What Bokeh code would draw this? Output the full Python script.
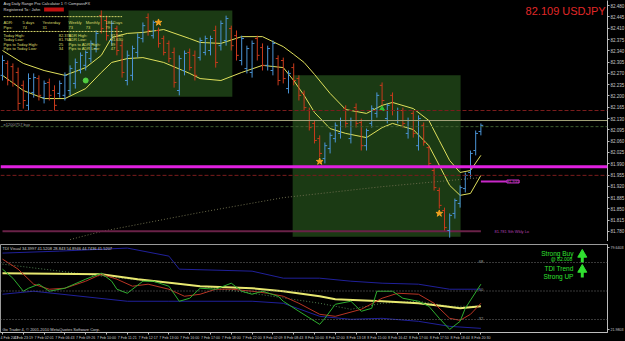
from bokeh.plotting import figure
from bokeh.layouts import column
from bokeh.models import Range1d, FixedTicker, PrintfTickFormatter, ColumnDataSource, Label, Span
from bokeh.core.properties import value
from bokeh.embed import file_html
from bokeh.resources import INLINE

# ---------------- data ----------------
bar_index = list(range(93))
high = [82.326, 82.310, 82.301, 82.288, 82.248, 82.270, 82.270, 82.264, 82.248, 82.254,
        82.233, 82.248, 82.273, 82.295, 82.316, 82.335, 82.341, 82.372, 82.403, 82.465,
        82.449, 82.434, 82.418, 82.372, 82.341, 82.356, 82.394, 82.428, 82.456, 82.434,
        82.412, 82.387, 82.372, 82.350, 82.326, 82.341, 82.347, 82.341, 82.381, 82.387,
        82.387, 82.418, 82.434, 82.449, 82.418, 82.403, 82.387, 82.356, 82.372, 82.387,
        82.363, 82.356, 82.372, 82.326, 82.319, 82.279, 82.301, 82.264, 82.217, 82.164,
        82.124, 82.078, 82.056, 82.087, 82.118, 82.133, 82.171, 82.133, 82.177, 82.130,
        82.099, 82.171, 82.211, 82.242, 82.177, 82.211, 82.164, 82.164, 82.133, 82.155,
        82.140, 82.118, 82.046, 81.978, 81.916, 81.854, 81.836, 81.882, 81.923, 81.963,
        82.031, 82.093, 82.115]
low = [82.248, 82.233, 82.229, 82.155, 82.161, 82.155, 82.195, 82.186, 82.177, 82.186,
       82.155, 82.195, 82.186, 82.202, 82.223, 82.270, 82.279, 82.304, 82.335, 82.394,
       82.372, 82.356, 82.326, 82.257, 82.233, 82.248, 82.319, 82.366, 82.387, 82.378,
       82.350, 82.326, 82.304, 82.226, 82.202, 82.264, 82.279, 82.248, 82.310, 82.326,
       82.326, 82.288, 82.341, 82.356, 82.341, 82.310, 82.295, 82.270, 82.257, 82.310,
       82.279, 82.279, 82.264, 82.233, 82.239, 82.208, 82.233, 82.186, 82.155, 82.093,
       82.053, 82.009, 81.991, 82.022, 82.056, 82.068, 82.102, 82.053, 82.102, 82.031,
       82.031, 82.102, 82.133, 82.171, 82.115, 82.140, 82.115, 82.102, 82.068, 82.071,
       82.031, 82.046, 81.978, 81.907, 81.851, 81.783, 81.761, 81.820, 81.854, 81.901,
       81.947, 82.016, 82.078]
opn = [82.264, 82.301, 82.291, 82.273, 82.233, 82.171, 82.211, 82.254, 82.195, 82.242,
       82.217, 82.208, 82.202, 82.217, 82.239, 82.279, 82.295, 82.316, 82.347, 82.449,
       82.434, 82.372, 82.409, 82.356, 82.248, 82.264, 82.335, 82.378, 82.443, 82.387,
       82.403, 82.378, 82.363, 82.335, 82.217, 82.279, 82.335, 82.326, 82.319, 82.335,
       82.341, 82.403, 82.356, 82.372, 82.409, 82.387, 82.310, 82.285, 82.273, 82.378,
       82.350, 82.295, 82.279, 82.316, 82.310, 82.223, 82.288, 82.254, 82.208, 82.155,
       82.115, 82.068, 82.006, 82.037, 82.068, 82.084, 82.161, 82.068, 82.164, 82.118,
       82.046, 82.115, 82.146, 82.233, 82.130, 82.202, 82.124, 82.155, 82.084, 82.146,
       82.046, 82.109, 82.040, 81.969, 81.907, 81.845, 81.783, 81.836, 81.867, 81.913,
       81.963, 82.031, 82.090]
cls = [82.310, 82.248, 82.239, 82.177, 82.186, 82.254, 82.257, 82.202, 82.239, 82.202,
       82.171, 82.239, 82.264, 82.285, 82.304, 82.326, 82.335, 82.363, 82.394, 82.409,
       82.387, 82.425, 82.341, 82.273, 82.326, 82.347, 82.381, 82.418, 82.403, 82.428,
       82.363, 82.335, 82.316, 82.242, 82.316, 82.332, 82.288, 82.264, 82.372, 82.378,
       82.378, 82.304, 82.425, 82.440, 82.356, 82.326, 82.378, 82.347, 82.363, 82.326,
       82.295, 82.347, 82.363, 82.248, 82.254, 82.270, 82.248, 82.202, 82.164, 82.102,
       82.062, 82.022, 82.046, 82.078, 82.109, 82.124, 82.115, 82.124, 82.115, 82.046,
       82.093, 82.161, 82.202, 82.186, 82.171, 82.155, 82.155, 82.115, 82.124, 82.084,
       82.130, 82.056, 81.991, 81.916, 81.861, 81.792, 81.830, 81.876, 81.916, 81.954,
       82.022, 82.084, 82.109]

band_idx = [0, 4, 8, 12, 16, 19, 21, 24, 27, 31, 36, 38, 42, 46, 50, 54, 56, 58, 60, 63,
            66, 70, 73, 75, 79, 82, 84, 86, 88, 90, 92]
band_upper = [82.341, 82.301, 82.279, 82.264, 82.288, 82.326, 82.381, 82.394, 82.397, 82.406,
              82.378, 82.366, 82.363, 82.384, 82.384, 82.353, 82.329, 82.304, 82.267, 82.208,
              82.158, 82.146, 82.171, 82.180, 82.161, 82.124, 82.062, 82.000, 81.963, 81.969,
              82.016]
band_lower = [82.264, 82.217, 82.192, 82.192, 82.223, 82.273, 82.304, 82.316, 82.319, 82.304,
              82.270, 82.254, 82.248, 82.273, 82.295, 82.288, 82.248, 82.202, 82.149, 82.099,
              82.084, 82.071, 82.102, 82.115, 82.096, 82.046, 81.985, 81.923, 81.892, 81.898,
              81.954]

ma_idx = [13, 19, 38, 54, 73, 92]
ma_val = [81.755, 81.780, 81.839, 81.885, 81.919, 81.947]

session_start = [12.7, 55.8]
session_end = [44.2, 88.1]
session_top = [82.465, 82.264]
session_bottom = [82.198, 81.764]

star_idx = [30, 61, 84]
star_price = [82.428, 81.997, 81.836]
dot_idx = [16]
dot_price = [82.248]
tri_idx = [73]
tri_price = [82.160]

level_red_dash = [82.155, 81.954]
level_khaki = 82.124
level_olive = 82.105
level_magenta = 81.981
weekly_low = 81.781
pivot_price = 81.935

price_ticks = [81.780, 81.815, 81.850, 81.885, 81.920, 81.955, 81.990, 82.025, 82.060, 82.095,
               82.130, 82.165, 82.200, 82.235, 82.270, 82.305, 82.340, 82.375, 82.410, 82.445,
               82.480]

time_ticks = [0, 4, 8, 12, 16, 20, 24, 28, 32, 36, 40, 44, 48, 52, 56, 60, 64, 68, 72, 76,
              80, 84, 88, 92]
time_labels = ["4 Feb 2011", "4 Feb 23:19", "7 Feb 02:01", "7 Feb 06:43", "7 Feb 09:26",
               "7 Feb 10:00", "7 Feb 11:21", "7 Feb 12:17", "7 Feb 13:00", "7 Feb 16:00",
               "7 Feb 17:00", "7 Feb 18:00", "7 Feb 22:00", "8 Feb 02:09", "8 Feb 08:43",
               "8 Feb 10:00", "8 Feb 12:00", "8 Feb 13:18", "8 Feb 15:00", "8 Feb 16:42",
               "8 Feb 17:00", "8 Feb 17:50", "8 Feb 18:44", "8 Feb 20:30"]

# TDI
tdi_green_idx = [0, 2, 4, 5, 7, 9, 12, 16, 19, 21, 22, 24, 27, 29, 32, 34, 36, 38, 41, 44,
                 46, 48, 50, 53, 54, 57, 61, 62, 64, 67, 69, 71, 72, 75, 77, 80, 82, 84, 86, 88,
                 89, 92]
tdi_green = [63.80, 58.10, 49.86, 51.76, 54.30, 49.86, 51.76, 57.46, 61.27, 56.20,
             51.13, 48.59, 56.20, 56.20, 53.03, 43.53, 45.43, 51.76, 51.13, 54.93,
             49.86, 47.96, 49.86, 46.69, 43.53, 37.19, 28.95, 32.75, 41.62, 43.53,
             37.19, 39.09, 49.86, 49.86, 45.43, 43.53, 40.36, 32.75, 25.78, 30.85,
             39.09, 54.30]
tdi_red_idx = [0, 3, 6, 9, 12, 16, 19, 22, 25, 28, 32, 35, 38, 41, 44, 48, 51, 54, 57, 61,
               64, 69, 73, 76, 80, 83, 86, 88, 90, 92]
tdi_red = [70.14, 63.80, 54.30, 51.13, 51.76, 56.20, 60.63, 57.46, 53.03, 54.30,
           51.13, 46.69, 47.96, 51.13, 51.13, 49.86, 48.59, 46.69, 42.26, 35.29,
           34.02, 38.46, 45.43, 48.59, 47.96, 42.26, 32.75, 31.49, 35.29, 42.26]
tdi_yellow_idx = [0, 19, 26, 33, 38, 48, 54, 61, 64, 73, 80, 85, 88, 92]
tdi_yellow = [61.27, 60.63, 57.46, 54.93, 53.03, 51.76, 49.86, 46.69, 44.79, 43.53, 42.26,
              40.36, 39.09, 40.36]
tdi_mid_idx = [0, 19, 38, 48, 61, 67, 73, 80, 86, 92]
tdi_mid = [66.97, 59.37, 53.03, 48.59, 42.26, 38.46, 42.26, 43.53, 40.36, 40.36]
tdi_up_idx = [0, 11, 24, 32, 34, 48, 54, 61, 67, 73, 80, 86, 92]
tdi_up = [73.94, 75.20, 77.11, 72.04, 63.80, 62.53, 58.10, 58.10, 56.20, 54.93, 54.30,
          51.13, 51.13]
tdi_dn_idx = [0, 6, 24, 32, 48, 54, 61, 67, 73, 80, 86, 92]
tdi_dn = [47.96, 49.86, 43.53, 43.53, 43.53, 42.26, 34.02, 32.12, 32.75, 30.85, 27.68, 26.42]
tdi_levels = [68, 50, 32]
tdi_axis_ticks = [25.6, 77.6]
tdi_axis_labels = ["21.9803", "79.6403"]

# ---------------- styling ----------------
FONT = value("Liberation Sans")
RED = "#c83a1c"
BLUE = "#4a94d6"
BOX = "#1b3a14"
YEL = "#e0e05c"
AX = "#bdbdbd"

xr = Range1d(-0.385, 116.35)

p = figure(frame_width=607, frame_height=241, x_range=xr, y_range=Range1d(81.749, 82.496),
           output_backend="svg", toolbar_location=None, x_axis_location=None,
           y_axis_location="right", background_fill_color="black", border_fill_color="black",
           min_border_left=0, min_border_right=18, min_border_top=0, min_border_bottom=0)
p.grid.visible = False
p.outline_line_color = None
ya = p.yaxis[0]
ya.ticker = FixedTicker(ticks=price_ticks)
ya.formatter = PrintfTickFormatter(format="%.3f")
ya.axis_line_color = AX
ya.major_tick_line_color = AX
ya.minor_tick_line_color = None
ya.major_tick_out = 2
ya.major_tick_in = 0
ya.major_label_standoff = 1
ya.major_label_text_font_size = "4.5px"
ya.major_label_text_color = "#c8c8c8"
ya.major_label_text_font = "Liberation Sans"

# session boxes
p.quad(left=session_start, right=session_end, top=session_top, bottom=session_bottom,
       fill_color=BOX, line_color=None)

# long MA dotted
p.line(ma_idx, ma_val, line_color="#6c6c4c", line_dash="1 2", line_width=1)

# horizontal levels
for lv in level_red_dash:
    p.add_layout(Span(location=lv, dimension="width", line_color="#7a1c1c",
                      line_dash="4 2", line_width=1))
p.add_layout(Span(location=level_khaki, dimension="width", line_color="#a4a47a", line_width=1))
p.add_layout(Span(location=level_olive, dimension="width", line_color="#3e5e2e",
                  line_dash="3 2", line_width=1))
p.add_layout(Span(location=level_magenta, dimension="width", line_color="#e020e0", line_width=3))

p.segment(x0=[bar_index[0]], y0=[weekly_low], x1=[bar_index[-1]], y1=[weekly_low],
          line_color="#6a2248", line_width=2)
p.segment(x0=[bar_index[-1]], y0=[pivot_price], x1=[97.0], y1=[pivot_price],
          line_color="#c828c8", line_width=2)

# bands
p.line(band_idx, band_upper, line_color=YEL, line_width=1)
p.line(band_idx, band_lower, line_color=YEL, line_width=1)

# OHLC bars
colors = [BLUE if c >= o else RED for o, c in zip(opn, cls)]
src = ColumnDataSource(dict(x=bar_index, high=high, low=low, open=opn, close=cls, color=colors,
                            xl=[i - 0.45 for i in bar_index], xr=[i + 0.45 for i in bar_index]))
p.segment(x0="x", y0="low", x1="x", y1="high", line_color="color", line_width=1, source=src)
p.segment(x0="xl", y0="open", x1="x", y1="open", line_color="color", line_width=1, source=src)
p.segment(x0="x", y0="close", x1="xr", y1="close", line_color="color", line_width=1, source=src)

# signals
p.scatter(star_idx, star_price, marker="star", size=7, fill_color="#f0a020", line_color="#f0a020")
p.scatter(dot_idx, dot_price, marker="circle", size=5, fill_color="#50d040", line_color="#50d040")
p.scatter(tri_idx, tri_price, marker="triangle", size=5, fill_color="#30c030", line_color="#30c030")

# title price
p.text(x=[100.6], y=[82.462], text=["82.109 USDJPY"], text_font=FONT, text_font_size=value("11px"),
       text_color="#e02828", text_baseline="middle", text_align="left")

# info panel
info_y = [82.487, 82.468, 82.428, 82.412, 82.387, 82.375, 82.360, 82.347]
p.text(x=[0.2, 0.2], y=info_y[:2],
       text=["Avg Daily Range Pro Calculator 1 © CompassFX", "Registered To : John"],
       text_font=FONT, text_font_size=value("4px"), text_color="#d8d8d8",
       text_baseline="middle", text_align="left")
p.quad(left=[8.0], right=[11.8], top=[82.474], bottom=[82.462], fill_color="#c01010", line_color=None)
p.segment(x0=[0.2, 0.2], y0=[82.446, 82.400], x1=[23.0, 23.0], y1=[82.446, 82.400],
          line_color="#d4d46a", line_dash="2 1", line_width=1)
cols_x = [0.2, 3.85, 7.7, 12.7, 16.0, 19.8]
adr_head = ["ADR:", "5 days", "Yesterday", "Weekly", "Monthly", "180 Days"]
adr_pips = ["Pips:", "74", "31", "73", "73", "79"]
p.text(x=cols_x + cols_x, y=[info_y[2]] * 6 + [info_y[3]] * 6, text=adr_head + adr_pips,
       text_font=FONT, text_font_size=value("4px"), text_color="#dcdc6a",
       text_baseline="middle", text_align="left")
stat_names = ["Today High:", "Today Low:", "Pips to Today High:", "Pips to Today Low:"]
stat_vals = ["82.370", "81.765", "25", "34"]
adr_names = ["ADR High:", "ADR Low:", "Pips to ADR High:", "Pips to ADR Low:"]
adr_vals = ["82.505", "81.630", "39", "47"]
p.text(x=[0.2] * 4 + [10.8] * 4 + [12.7] * 4 + [20.8] * 4, y=info_y[4:] * 4,
       text=stat_names + stat_vals + adr_names + adr_vals,
       text_font=FONT, text_font_size=value("4px"), text_color="#dcdc6a",
       text_baseline="middle", text_align="left")

p.text(x=[0.2], y=[82.112], text=["e1200/757 buy"], text_font=FONT, text_font_size=value("4px"),
       text_color="#9a9a9a", text_baseline="middle", text_align="left")
p.text(x=[94.6], y=[weekly_low], text=["81.781  Sth Wkly Lo"], text_font=FONT,
       text_font_size=value("4px"), text_color="#b040b0", text_baseline="middle", text_align="left")
p.add_layout(Label(x=97.0, y=pivot_price, text="81.935", text_font_size="4px", text_color="#d050d0",
                   text_baseline="middle", border_line_color="#c828c8", background_fill_color="black",
                   text_font="Liberation Sans"))
p.add_layout(Label(x=116.4, y=level_khaki, text="82.109", text_font_size="4px", text_color="black",
                   text_baseline="middle", background_fill_color="#e8e890", text_font="Liberation Sans"))
p.add_layout(Label(x=116.4, y=level_magenta, text="81.990", text_font_size="4px", text_color="black",
                   text_baseline="middle", background_fill_color="#e060e0", text_font="Liberation Sans"))

# ---------------- indicator panel ----------------
q = figure(frame_width=607, frame_height=88, x_range=xr, y_range=Range1d(23.8, 79.37),
           output_backend="svg", toolbar_location=None, y_axis_location="right",
           x_axis_location="below", background_fill_color="black", border_fill_color="black",
           min_border_left=0, min_border_right=18, min_border_top=3, min_border_bottom=9)
q.grid.visible = False
q.outline_line_color = "#9a9a9a"
qy = q.yaxis[0]
qy.ticker = FixedTicker(ticks=tdi_axis_ticks)
qy.major_label_overrides = {t: s for t, s in zip(tdi_axis_ticks, tdi_axis_labels)}
qx = q.xaxis[0]
qx.ticker = FixedTicker(ticks=time_ticks)
qx.major_label_overrides = {t: s for t, s in zip(time_ticks, time_labels)}
for ax in (qy, qx):
    ax.axis_line_color = AX
    ax.major_tick_line_color = AX
    ax.minor_tick_line_color = None
    ax.major_tick_out = 2
    ax.major_tick_in = 0
    ax.major_label_standoff = 1
    ax.major_label_text_color = "#c8c8c8"
    ax.major_label_text_font = "Liberation Sans"
qy.major_label_text_font_size = "3.6px"
qx.major_label_text_font_size = "3.6px"
qx.major_label_text_align = "left"

for lv in tdi_levels:
    q.add_layout(Span(location=lv, dimension="width", line_color="#707070", line_dash="1 2",
                      line_width=1))
q.text(x=[92, 92, 92], y=tdi_levels, text=[str(v) for v in tdi_levels], text_font=FONT,
       text_font_size=value("4px"), text_color="#a0a0a0", text_baseline="bottom", text_align="center")

q.line(tdi_up_idx, tdi_up, line_color="#20209a", line_width=1)
q.line(tdi_dn_idx, tdi_dn, line_color="#20209a", line_width=1)
q.line(tdi_mid_idx, tdi_mid, line_color="#4e7c4e", line_dash="1 2", line_width=1)
q.line(tdi_yellow_idx, tdi_yellow, line_color="#e8e870", line_width=2)
q.line(tdi_red_idx, tdi_red, line_color="#b83424", line_width=1)
q.line(tdi_green_idx, tdi_green, line_color="#2eae2e", line_width=1)

q.text(x=[0.0], y=[76.8], text=["TDI Visual 34.3997 41.5208 28.843 54.8946 44.7436 41.5207"],
       text_font=FONT, text_font_size=value("4px"), text_color="#d0d0d0",
       text_baseline="middle", text_align="left")
q.text(x=[0.0], y=[25.6], text=["Go Trader 4, © 2001-2010 MetaQuotes Software Corp."],
       text_font=FONT, text_font_size=value("4px"), text_color="#d0d0d0",
       text_baseline="middle", text_align="left")

GRN = "#30e030"
q.text(x=[109.8, 109.8], y=[73.7, 64.2], text=["Strong Buy", "TDI Trend"], text_font=FONT,
       text_font_size=value("6.5px"), text_color=GRN, text_baseline="middle", text_align="right")
q.text(x=[109.6], y=[69.9], text=["@ 82.008"], text_font=FONT, text_font_size=value("5px"),
       text_color=GRN, text_baseline="middle", text_align="right")
q.text(x=[109.8], y=[59.2], text=["Strong UP"], text_font=FONT, text_font_size=value("6.5px"),
       text_color=GRN, text_baseline="middle", text_align="right")
q.scatter(x=[111.5, 111.5], y=[73.0, 63.5], marker="triangle", size=9, fill_color=GRN,
          line_color=GRN)
q.segment(x0=[111.5, 111.5], y0=[71.8, 62.3], x1=[111.5, 111.5], y1=[68.0, 58.5],
          line_color=GRN, line_width=3)

layout = column(p, q, spacing=0, styles={"background-color": "black"})
open("out.html", "w").write(file_html(layout, INLINE))
